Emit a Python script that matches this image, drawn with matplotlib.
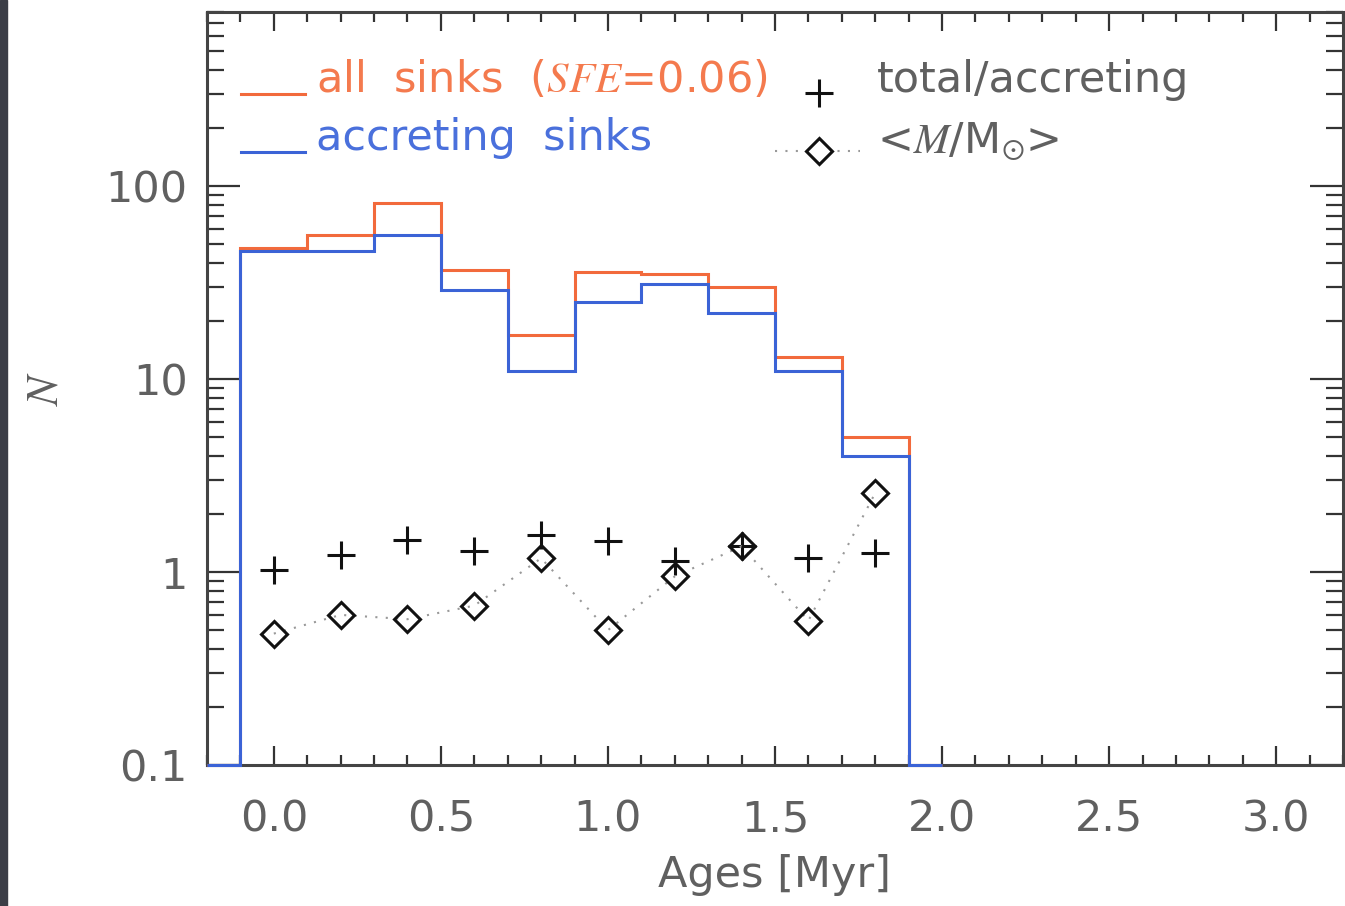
import numpy as np
import matplotlib
matplotlib.use("Agg")
import matplotlib.pyplot as plt
from matplotlib.patches import Rectangle
from matplotlib.ticker import FixedLocator, MultipleLocator, NullFormatter

plt.rcParams['font.family'] = ['DejaVu Sans']
plt.rcParams['mathtext.fontset'] = 'stix'

# histogram bins (Myr) and counts
bin_edges = [-0.1, 0.1, 0.3, 0.5, 0.7, 0.9, 1.1, 1.3, 1.5, 1.7, 1.9]
all_sinks = [48, 56, 82, 37, 17, 36, 35, 30, 13, 5]
accreting = [46, 46, 56, 29, 11, 25, 31, 22, 11, 4]

# per-bin markers
ages = [0.0, 0.2, 0.4, 0.6, 0.8, 1.0, 1.2, 1.4, 1.6, 1.8]
ratio = [1.03, 1.22, 1.46, 1.28, 1.55, 1.45, 1.14, 1.36, 1.18, 1.25]
mean_mass = [0.48, 0.60, 0.57, 0.67, 1.18, 0.50, 0.95, 1.36, 0.56, 2.57]

ymin, ymax = 0.1, 800
orange = '#f26a3c'
blue = '#3b63d6'
grey = '#606060'

fig = plt.figure(figsize=(13.45, 9.06), dpi=100)
fig.patches.append(Rectangle((0, 0), 7 / 1345, 1, transform=fig.transFigure,
                             color='#3b3e47', zorder=0))
ax = fig.add_axes([0.1539, 0.1556, 0.8446, 0.8312])

# half-bin at each end sits on the floor (IDL psym=10 style)
edges = [bin_edges[0] - 0.1] + bin_edges + [bin_edges[-1] + 0.1]
ax.stairs([ymin] + all_sinks + [ymin], edges, baseline=None, color=orange,
          lw=2.2, zorder=3, clip_on=False)
ax.stairs([ymin] + accreting + [ymin], edges, baseline=None, color=blue,
          lw=2.2, zorder=4, clip_on=False)

ax.plot(ages, ratio, ls='none', marker='+', ms=20, mew=2.2, color='#111111', zorder=5)
ax.plot(ages, mean_mass, ls=(0, (1, 4)), lw=1.5, color='#999999', zorder=5)
ax.plot(ages, mean_mass, ls='none', marker='D', ms=13, mew=2.2, mfc='none',
        mec='#111111', zorder=6)

ax.set_yscale('log')
ax.set_xlim(-0.2, 3.2)
ax.set_ylim(ymin, ymax)

ax.xaxis.set_major_locator(MultipleLocator(0.5))
ax.xaxis.set_minor_locator(MultipleLocator(0.1))
ax.yaxis.set_major_locator(FixedLocator([0.1, 1, 10, 100]))
ax.set_yticklabels(['0.1', '1', '10', '100'])
ax.yaxis.set_minor_formatter(NullFormatter())

ax.tick_params(which='both', direction='in', top=True, right=True,
               color='#333333', width=1.6, labelcolor=grey, labelsize=31)
ax.tick_params(axis='x', which='major', length=14, pad=24)
ax.tick_params(axis='x', which='minor', length=7)
ax.tick_params(axis='y', which='major', length=24, pad=14)
ax.tick_params(axis='y', which='minor', length=12)
for s in ax.spines.values():
    s.set_linewidth(2.2)
    s.set_color('#444444')

ax.set_xlabel('Ages [Myr]', fontsize=31, color=grey, labelpad=10)
ax.set_ylabel('$N$', fontsize=32, color=grey, labelpad=28)

# hand-made legend
tr = ax.transAxes
ax.plot([0.03, 0.086], [0.891, 0.891], transform=tr, color=orange, lw=2.2)
ax.text(0.096, 0.91, 'all  sinks  ($\\mathit{SFE}$=0.06)', transform=tr,
        fontsize=31, color='#f47a4e', va='center')
ax.plot([0.03, 0.086], [0.814, 0.814], transform=tr, color=blue, lw=2.2)
ax.text(0.096, 0.832, 'accreting  sinks', transform=tr, fontsize=31,
        color='#4a70dc', va='center')
ax.plot([0.539], [0.893], transform=tr, ls='none', marker='+', ms=20, mew=2.2,
        color='#111111')
ax.text(0.59, 0.91, 'total/accreting', transform=tr, fontsize=31, color=grey,
        va='center')
ax.plot([0.50, 0.575], [0.815, 0.815], transform=tr, ls=(0, (1, 4)), lw=1.5,
        color='#999999')
ax.plot([0.539], [0.815], transform=tr, ls='none', marker='D', ms=13, mew=2.2,
        mfc='white', mec='#111111')
ax.text(0.59, 0.828, '<$M$/M$_{\\odot}$>', transform=tr, fontsize=31, color=grey,
        va='center')

fig.savefig('out.png', dpi=100)
